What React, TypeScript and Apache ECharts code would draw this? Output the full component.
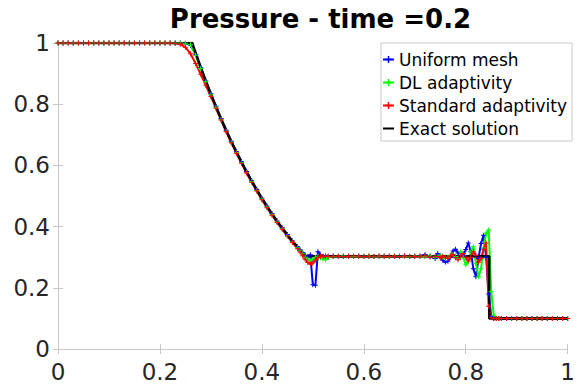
import React, { useEffect, useRef } from "react";
import * as echarts from "echarts";

const titleText = "Pressure - time =0.2";
const seriesNames = ["Uniform mesh", "DL adaptivity", "Standard adaptivity", "Exact solution"];
const seriesColors = ["#0000ff", "#00ff00", "#ff0000", "#000000"];
const xTicks = [0, 0.2, 0.4, 0.6, 0.8, 1];
const yTicks = [0, 0.2, 0.4, 0.6, 0.8, 1];

const xs = [
  0, 0.01, 0.02, 0.03, 0.04, 0.05, 0.06, 0.07, 0.08, 0.09, 0.1, 0.11, 0.12, 0.13, 0.14, 0.15, 0.16, 0.17, 0.18, 0.19,
  0.2, 0.21, 0.22, 0.23, 0.24, 0.25, 0.26, 0.27, 0.28, 0.29, 0.3, 0.31, 0.32, 0.33, 0.34, 0.35, 0.36, 0.37, 0.38, 0.39,
  0.4, 0.41, 0.42, 0.43, 0.44, 0.45, 0.46, 0.47,
  0.475, 0.48, 0.485, 0.49, 0.495, 0.5, 0.505, 0.51, 0.515, 0.52, 0.525, 0.53,
  0.54, 0.55, 0.56, 0.57, 0.58, 0.59, 0.6, 0.61, 0.62, 0.63, 0.64, 0.65, 0.66, 0.67, 0.68, 0.69, 0.7, 0.71, 0.72, 0.73, 0.74,
  0.745, 0.75, 0.755, 0.76, 0.765, 0.77, 0.775, 0.78, 0.785, 0.79, 0.795, 0.8, 0.805, 0.81, 0.815, 0.82, 0.825, 0.83,
  0.835, 0.84, 0.845, 0.85, 0.855, 0.86, 0.865, 0.87,
  0.88, 0.89, 0.9, 0.91, 0.92, 0.93, 0.94, 0.95, 0.96, 0.97, 0.98, 0.99, 1,
];

const uniformMesh = [
  1, 1, 1, 1, 1, 1, 1, 1, 1, 1, 1, 1, 1, 1, 1, 1, 1, 1, 1, 1, 1, 1, 1,
  1, 1, 0.999, 0.993, 0.962, 0.919, 0.876, 0.834, 0.793, 0.753, 0.715, 0.679, 0.645, 0.612, 0.58, 0.55, 0.521, 0.493,
  0.467, 0.442, 0.418, 0.396, 0.374, 0.353, 0.334,
  0.324, 0.315, 0.306, 0.301, 0.308, 0.21, 0.208, 0.318, 0.307, 0.302, 0.304, 0.303,
  0.304, 0.302, 0.303, 0.303, 0.302, 0.304, 0.303, 0.303, 0.302, 0.303, 0.304, 0.303, 0.302, 0.303, 0.305, 0.302, 0.303,
  0.304, 0.308, 0.302, 0.296,
  0.312, 0.305, 0.29, 0.284, 0.287, 0.3, 0.32, 0.326, 0.314, 0.3, 0.306, 0.325, 0.346, 0.318, 0.262, 0.236, 0.296, 0.345,
  0.372, 0.3, 0.18, 0.107, 0.1, 0.1, 0.1, 0.1,
  0.1, 0.1, 0.1, 0.1, 0.1, 0.1, 0.1, 0.1, 0.1, 0.1, 0.1, 0.1, 0.1,
];

const dlAdaptivity = [
  1, 1, 1, 1, 1, 1, 1, 1, 1, 1, 1, 1, 1, 1, 1, 1, 1, 1, 1, 1, 1, 1, 1,
  1, 1, 0.999, 0.994, 0.96, 0.917, 0.873, 0.831, 0.79, 0.75, 0.712, 0.676, 0.642, 0.609, 0.577, 0.547, 0.518, 0.49,
  0.464, 0.439, 0.415, 0.393, 0.371, 0.35, 0.331,
  0.321, 0.311, 0.3, 0.292, 0.288, 0.292, 0.3, 0.303, 0.298, 0.294, 0.292, 0.299,
  0.302, 0.303, 0.304, 0.303, 0.302, 0.303, 0.303, 0.304, 0.302, 0.303, 0.303, 0.302, 0.304, 0.303, 0.303, 0.302, 0.304,
  0.303, 0.302, 0.305, 0.3,
  0.303, 0.306, 0.3, 0.296, 0.3, 0.306, 0.31, 0.302, 0.296, 0.318, 0.3, 0.275, 0.285, 0.318, 0.334, 0.28, 0.236, 0.262,
  0.33, 0.378, 0.389, 0.187, 0.11, 0.1, 0.1, 0.1,
  0.1, 0.1, 0.1, 0.1, 0.1, 0.1, 0.1, 0.1, 0.1, 0.1, 0.1, 0.1, 0.1,
];

const standardAdaptivity = [
  1, 1, 1, 1, 1, 1, 1, 1, 1, 1, 1, 1, 1, 1, 1, 1, 1, 1, 1, 1, 1, 1, 1,
  0.999, 0.996, 0.986, 0.965, 0.933, 0.898, 0.862, 0.825, 0.787, 0.748, 0.71, 0.674, 0.64, 0.607, 0.575, 0.545, 0.516,
  0.488, 0.462, 0.437, 0.413, 0.391, 0.369, 0.348, 0.328,
  0.317, 0.305, 0.293, 0.283, 0.278, 0.281, 0.291, 0.299, 0.303, 0.304, 0.303, 0.302,
  0.303, 0.303, 0.302, 0.303, 0.304, 0.303, 0.302, 0.303, 0.303, 0.304, 0.302, 0.303, 0.303, 0.302, 0.304, 0.303, 0.302,
  0.303, 0.305, 0.301, 0.302,
  0.302, 0.298, 0.304, 0.3, 0.296, 0.304, 0.308, 0.298, 0.292, 0.304, 0.312, 0.3, 0.288, 0.3, 0.318, 0.306, 0.284, 0.296,
  0.326, 0.346, 0.14, 0.102, 0.1, 0.1, 0.1, 0.1,
  0.1, 0.1, 0.1, 0.1, 0.1, 0.1, 0.1, 0.1, 0.1, 0.1, 0.1, 0.1, 0.1,
];

const exactX = [
  0, 0.2634, 0.27, 0.28, 0.29, 0.3, 0.31, 0.32, 0.33, 0.34, 0.35, 0.36, 0.37, 0.38, 0.39, 0.4, 0.41, 0.42, 0.43, 0.44,
  0.45, 0.46, 0.47, 0.48, 0.4859, 0.846, 0.846, 1,
];
const exactY = [
  1, 1, 0.968, 0.921, 0.876, 0.833, 0.792, 0.752, 0.714, 0.678, 0.644, 0.611, 0.579, 0.549, 0.52, 0.492, 0.466, 0.441,
  0.417, 0.395, 0.373, 0.352, 0.333, 0.314, 0.303, 0.303, 0.1, 0.1,
];

const plusSymbol = "path://M2,0H3V2H5V3H3V5H2V3H0V2H2Z";
const FONT = "DejaVu Sans";
const GRAY = "#c8c8c8";

export default function App() {
  const ref = useRef<HTMLDivElement>(null);
  useEffect(() => {
    if (!ref.current) return;
    const chart = echarts.init(ref.current, undefined, { renderer: "svg" });
    const pairs = (ys: number[]) => xs.map((x, i) => [x, ys[i]]);
    const numeric = [uniformMesh, dlAdaptivity, standardAdaptivity];
    const axisCommon = {
      type: "value" as const,
      min: 0,
      max: 1,
      interval: 0.2,
      splitLine: { show: false },
      axisLine: { show: true, lineStyle: { color: GRAY, width: 1 } },
      axisTick: { show: true, inside: true, length: 5, lineStyle: { color: GRAY } },
    };
    chart.setOption({
      animation: false,
      backgroundColor: "#ffffff",
      title: {
        text: titleText,
        left: 315.5,
        textAlign: "center",
        top: 1,
        textStyle: { fontFamily: FONT, fontWeight: "bold", fontSize: 26, color: "#000" },
      },
      grid: { left: 58, right: 3, top: 43, bottom: 40, show: false },
      legend: {
        orient: "vertical",
        left: 381,
        top: 43,
        padding: [8, 5, 4, 1],
        itemGap: 6,
        itemWidth: 11,
        itemHeight: 9,
        borderColor: GRAY,
        borderWidth: 1,
        backgroundColor: "#fff",
        textStyle: { fontFamily: FONT, fontSize: 17, color: "#000" },
        data: [
          seriesNames[0],
          seriesNames[1],
          seriesNames[2],
          { name: seriesNames[3], itemStyle: { opacity: 0 } },
        ],
      },
      xAxis: [
        {
          ...axisCommon,
          position: "bottom",
          axisLabel: {
            margin: 11,
            fontFamily: FONT,
            fontSize: 23,
            color: "#262626",
            customValues: xTicks,
          },
        },
        { ...axisCommon, position: "top", axisLabel: { show: false } },
      ],
      yAxis: [
        {
          ...axisCommon,
          position: "left",
          axisLabel: { margin: 8, fontFamily: FONT, fontSize: 23, color: "#262626", customValues: yTicks },
        },
        { ...axisCommon, position: "right", axisLabel: { show: false } },
      ],
      series: [
        ...numeric.map((ys, k) => ({
          name: seriesNames[k],
          type: "line",
          xAxisIndex: 0,
          yAxisIndex: 0,
          data: pairs(ys),
          symbol: plusSymbol,
          symbolSize: 5,
          showSymbol: true,
          lineStyle: { color: seriesColors[k], width: 2 },
          itemStyle: { color: seriesColors[k] },
        })),
        {
          name: seriesNames[3],
          type: "line",
          xAxisIndex: 0,
          yAxisIndex: 0,
          data: exactX.map((x, i) => [x, exactY[i]]),
          symbol: "none",
          lineStyle: { color: seriesColors[3], width: 2.5 },
          itemStyle: { color: seriesColors[3] },
        },
      ],
    });
    return () => chart.dispose();
  }, []);
  return <div ref={ref} style={{ width: 578, height: 389, position: "absolute", left: 0, top: 0 }} />;
}
